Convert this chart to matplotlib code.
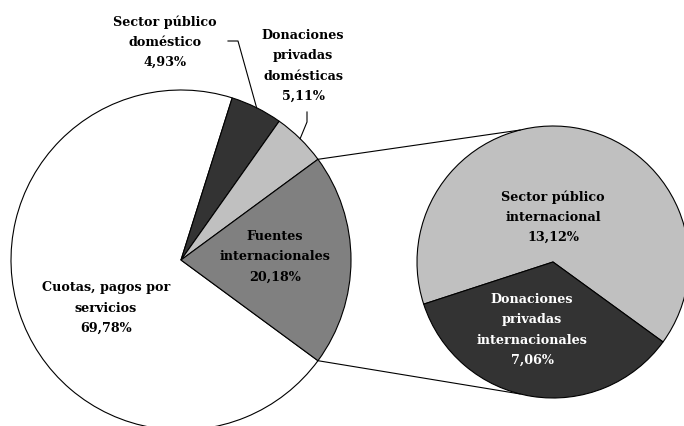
import numpy as np
import matplotlib
matplotlib.use("Agg")
import matplotlib.pyplot as plt

# Fuentes de financiamiento (%)
main_labels = ["Cuotas, pagos por\nservicios", "Sector público\ndoméstico",
               "Donaciones\nprivadas\ndomésticas", "Fuentes\ninternacionales"]
main_values = [69.78, 4.93, 5.11, 20.18]
main_colors = ["#ffffff", "#333333", "#c0c0c0", "#808080"]

# desglose de fuentes internacionales
sub_labels = ["Sector público\ninternacional", "Donaciones\nprivadas\ninternacionales"]
sub_values = [13.12, 7.06]
sub_colors = ["#c0c0c0", "#333333"]


def pct(v):
    return f"{v:.2f}".replace(".", ",") + "%"


W, H = 684, 426
fig = plt.figure(figsize=(W / 100, H / 100), dpi=100)
ax = fig.add_axes([0, 0, 1, 1])

c1, r1 = (181, 166), 170
c2, r2 = (553, 164), 136

wedge_kw = dict(edgecolor="black", linewidth=0.8)
w1, _ = ax.pie(main_values, colors=main_colors, center=c1, radius=r1,
               startangle=-main_values[3] * 1.8, counterclock=False,
               wedgeprops=wedge_kw, frame=True)
w2, _ = ax.pie(sub_values, colors=sub_colors, center=c2, radius=r2,
               startangle=-36, counterclock=True,
               wedgeprops=wedge_kw, frame=True)

ax.set_xlim(0, W)
ax.set_ylim(0, H)
ax.set_aspect("equal")
ax.axis("off")


def on_circle(c, r, ang):
    a = np.deg2rad(ang)
    return c[0] + r * np.cos(a), c[1] + r * np.sin(a)


# lineas de conexion entre los dos circulos
fi = w1[3]
for a_main, a_sub in [(fi.theta2, 104), (fi.theta1, -104)]:
    p = on_circle(c1, r1, a_main)
    q = on_circle(c2, r2, a_sub)
    ax.plot([p[0], q[0]], [p[1], q[1]], color="black", lw=0.8)

font = dict(family="DejaVu Serif", fontweight="bold", fontsize=9.2,
            ha="center", va="center", linespacing=1.72)

# etiquetas internas
ax.text(106, H - 308, main_labels[0] + "\n" + pct(main_values[0]), **font)
ax.text(275, H - 257, main_labels[3] + "\n" + pct(main_values[3]), **font)
ax.text(553, H - 217, sub_labels[0] + "\n" + pct(sub_values[0]), **font)
ax.text(532, H - 330, sub_labels[1] + "\n" + pct(sub_values[1]),
        color="white", **font)

# etiquetas externas con lineas guia
ax.text(165, H - 42, main_labels[1] + "\n" + pct(main_values[1]), **font)
ax.text(303, H - 66, main_labels[2] + "\n" + pct(main_values[2]), **font)

sp = w1[1]
mid = (sp.theta1 + sp.theta2) / 2
p = on_circle(c1, r1, mid)
ax.plot([228, 238, p[0]], [H - 41, H - 41, p[1]], color="black", lw=0.8)

dp = w1[2]
mid = (dp.theta1 + dp.theta2) / 2
p = on_circle(c1, r1, mid)
ax.plot([307, 307, p[0]], [H - 112, H - 122, p[1]], color="black", lw=0.8)

fig.savefig("out.png", dpi=100, facecolor="white")
